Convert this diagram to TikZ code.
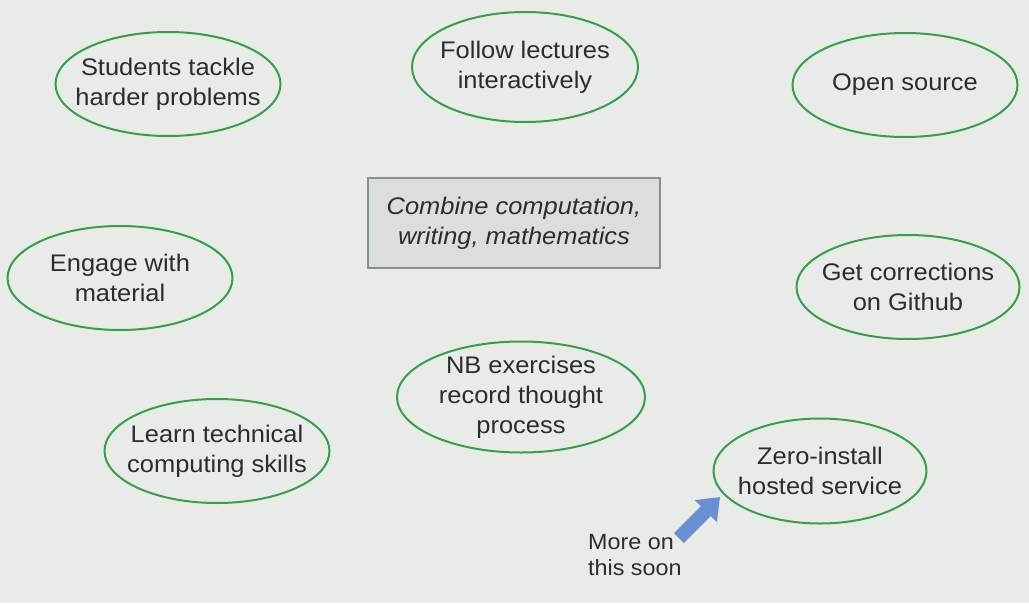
\documentclass[tikz,border=0pt]{standalone}
\usepackage{fontspec}
\setmainfont{Liberation Sans}[FakeStretch=1.06]
\usetikzlibrary{shapes.geometric,arrows.meta,positioning}

\definecolor{slidebg}{HTML}{E9EBE8}
\definecolor{ringgreen}{HTML}{3E9A4E}
\definecolor{inkgrey}{HTML}{2C2C2C}
\definecolor{boxfill}{HTML}{DCDEDB}
\definecolor{boxline}{HTML}{859385}
\definecolor{pointblue}{HTML}{6A8FD2}

\begin{document}
\begin{tikzpicture}
    [x=1pt,y=-1pt,
    idea/.style={ellipse,draw=ringgreen,line width=2pt,text=inkgrey,
                 inner xsep=-40pt,inner ysep=-25pt,
                 minimum width=225pt,minimum height=104pt,
                 align=center,font=\fontsize{24}{30}\selectfont},
    core/.style={rectangle,draw=boxline,fill=boxfill,line width=1.5pt,
                 text=inkgrey,minimum width=292pt,minimum height=90pt,
                 align=center,font=\fontsize{24}{30}\selectfont\itshape},
    note/.style={text=inkgrey,align=left,inner sep=0pt,
                 font=\fontsize{22}{26}\selectfont},
    pointer/.style={draw=pointblue,line width=14pt,
                    -{Triangle[width=30pt,length=20pt]}}]

    \useasboundingbox[fill=slidebg] (0,0) rectangle (1029,603);

    \node[core] (combine) at (514,223) {Combine computation,\\writing, mathematics};

    \node[idea] (tackle)   at (168,84)  {Students tackle\\harder problems};
    \node[idea] (follow)   at (525,67)  [minimum width=226pt,minimum height=110pt]
                                        {Follow lectures\\interactively};
    \node[idea] (opensrc)  at (905,85)  {Open source};
    \node[idea] (engage)   at (120,278) {Engage with\\material};
    \node[idea] (github)   at (908,287) [minimum width=223pt]
                                        {Get corrections\\on Github};
    \node[idea] (exercise) at (521,397) [minimum width=248pt,minimum height=111pt]
                                        {NB exercises\\record thought\\process};
    \node[idea] (skills)   at (217,451) {Learn technical\\computing skills};
    \node[idea] (zero)     at (820,471) [minimum width=213pt,minimum height=105pt]
                                        {Zero-install\\hosted service};

    \node[note] (soon) at (588,555) [anchor=west] {More on\\this soon};
    \coordinate (tail) at (679,538);
    \coordinate (tip)  at (720,497);
    \draw[pointer] (tail) -- (tip);
\end{tikzpicture}
\end{document}
